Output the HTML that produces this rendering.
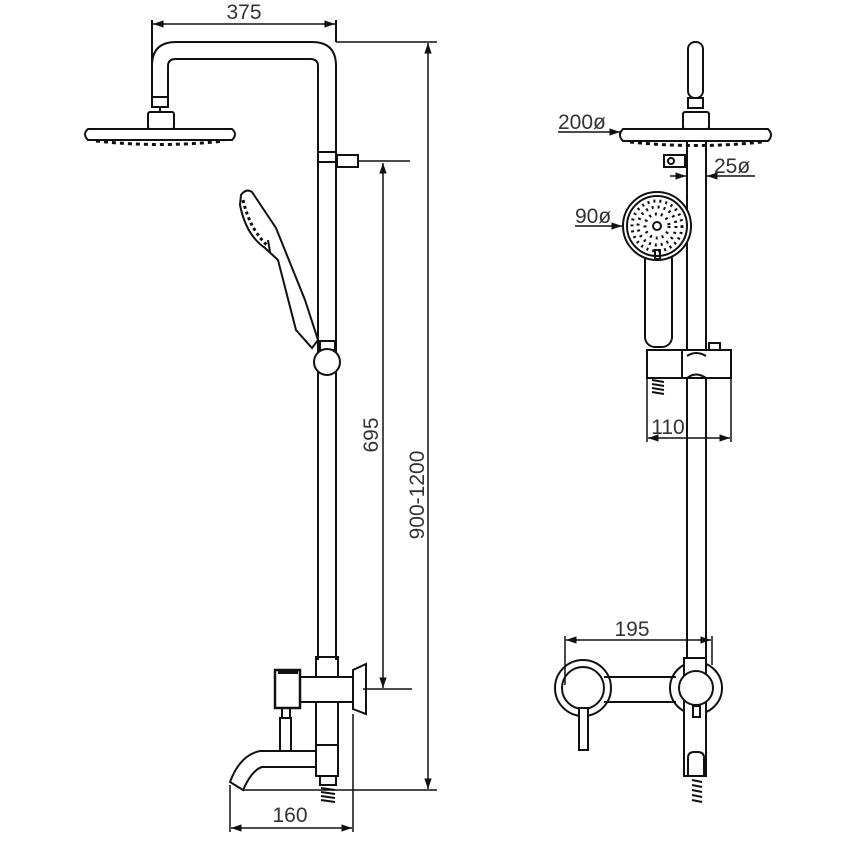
<!DOCTYPE html>
<html><head><meta charset="utf-8"><style>
html,body{margin:0;padding:0;background:#fff;}
svg{display:block;}
text{font-family:"Liberation Sans",sans-serif;font-size:21px;fill:#333;}
</style></head><body>
<svg width="855" height="855" viewBox="0 0 855 855" xmlns="http://www.w3.org/2000/svg">
<defs>
<marker id="a" viewBox="0 0 10 10" refX="10" refY="5" markerWidth="7" markerHeight="7" orient="auto-start-reverse"><path d="M0,1.5 L10,5 L0,8.5 z" fill="#111"/></marker>
</defs>
<g fill="none" stroke="#111" stroke-width="2">
<path d="M152,97 L152,66 Q152,42 176,42 L312,42 Q336,42 336,66 L336,660"/>
<path d="M168,97 L168,66 Q168,59 176,59 L310,59 Q318,59 318,66 L318,660"/>
<rect x="152" y="97" width="16" height="10" fill="#fff"/>
<rect x="148" y="112" width="26" height="17" rx="2"/>
<path d="M160,107 L160,112"/>
<path d="M88,129 L232,129 Q238,134 232,140 L88,140 Q82,134 88,129 Z"/>
<path d="M96,141 Q160,148 224,141" stroke-dasharray="4,4" stroke-width="3"/>
<rect x="318" y="152" width="18" height="10" fill="#fff"/>
<rect x="337" y="155" width="21" height="12"/>
<path d="M241,195 Q246,188 252,192 L276,228 L305,300 L318,340 L312,348 L296,330 L278,260 L265,248 Q246,235 240,205 Z"/>
<path d="M243,200 Q250,230 268,246" stroke-dasharray="3,3" stroke-width="3"/>
<path d="M268,240 L270,252"/>
<rect x="320" y="341" width="15" height="9"/>
<circle cx="327" cy="362" r="13" fill="#fff"/>
<rect x="316" y="657" width="22" height="88"/>
<rect x="300" y="677" width="53" height="25" fill="#fff"/>
<path d="M353,677 L353,670 L366,664 L366,714 L353,709 L353,702"/>
<rect x="275" y="670" width="25" height="38" stroke-width="2.5"/>
<rect x="279" y="670" width="18" height="3" fill="#111"/>
<rect x="282" y="708" width="8" height="10"/>
<rect x="280" y="718" width="11" height="33"/>
<path d="M316,751 L260,751 Q240,755 230,782 L243,790 Q252,770 262,767 L316,767"/>
<rect x="316" y="745" width="22" height="31"/>
<rect x="320" y="776" width="16" height="9"/>
<path d="M321,788 L335,790 M321,792 L335,794 M321,796 L335,798 M321,800 L335,802"/>
<path d="M152,20 L152,97 M336,20 L336,42"/>
<line x1="153" y1="24" x2="335" y2="24" marker-start="url(#a)" marker-end="url(#a)" stroke-width="1.5"/>
<path d="M336,42 L437,42" stroke-width="1.5"/>
<path d="M358,161 L410,161" stroke-width="1.5"/>
<line x1="383" y1="163" x2="383" y2="688" marker-start="url(#a)" marker-end="url(#a)" stroke-width="1.5"/>
<path d="M363,689 L412,689" stroke-width="1.5"/>
<line x1="428" y1="43" x2="428" y2="789" marker-start="url(#a)" marker-end="url(#a)" stroke-width="1.5"/>
<path d="M243,790 L437,790" stroke-width="1.5"/>
<path d="M230,785 L230,832 M353,714 L353,832" stroke-width="1.5"/>
<line x1="231" y1="828" x2="352" y2="828" marker-start="url(#a)" marker-end="url(#a)" stroke-width="1.5"/>

<rect x="688" y="42" width="15" height="56" rx="7"/>
<rect x="688" y="98" width="15" height="10"/>
<rect x="683" y="112" width="26" height="17" rx="2"/>
<path d="M623,129 L768,129 Q774,135 768,141 L623,141 Q617,135 623,129 Z"/>
<path d="M630,142 Q696,149 762,142" stroke-dasharray="4,4" stroke-width="3"/>
<path d="M687,141 L687,658 M706,141 L706,658"/>
<rect x="664" y="155" width="21" height="12"/>
<circle cx="671" cy="161" r="3"/>
<rect x="645" y="250" width="27" height="97" rx="10" fill="#fff"/>
<circle cx="657" cy="226" r="34" fill="#fff"/>
<circle cx="657" cy="226" r="30"/>
<circle cx="657" cy="226" r="4"/>
<circle cx="657" cy="226" r="12" stroke-dasharray="2,4" stroke-width="3"/>
<circle cx="657" cy="226" r="19" stroke-dasharray="2,4" stroke-width="3"/>
<circle cx="657" cy="226" r="25" stroke-dasharray="2,4" stroke-width="3"/>
<rect x="655" y="250" width="5" height="9"/>
<rect x="709" y="343" width="11" height="7"/>
<rect x="647" y="350" width="84" height="28" fill="#fff"/>
<path d="M682,350 L682,378"/>
<path d="M687,356 Q696,350 706,356 M687,378 Q696,371 706,378"/>
<path d="M687,378 L687,446 M706,378 L706,446"/>
<path d="M652,380 L664,382 M652,384 L664,386 M652,388 L664,390 M652,392 L664,394"/>
<circle cx="583" cy="688" r="28"/>
<circle cx="583" cy="688" r="21" fill="#fff"/>
<circle cx="696" cy="688" r="26"/>
<path d="M604,677 L676,677 M604,702 L676,702"/>
<rect x="684" y="658" width="22" height="118" fill="#fff"/>
<circle cx="696" cy="688" r="17" fill="#fff"/>
<rect x="693" y="706" width="7" height="11"/>
<rect x="579" y="708" width="9" height="42" fill="#fff"/>
<path d="M688,776 L688,758 Q688,752 694,752 L698,752 Q704,752 704,758 L704,776"/>
<path d="M692,780 L702,782 M692,785 L702,787 M692,790 L702,792 M692,795 L702,797 M692,800 L702,802"/>
<line x1="558" y1="132" x2="620" y2="132" marker-end="url(#a)" stroke-width="1.5"/>
<line x1="575" y1="226" x2="622" y2="226" marker-end="url(#a)" stroke-width="1.5"/>
<line x1="670" y1="176" x2="686" y2="176" marker-end="url(#a)" stroke-width="1.5"/>
<line x1="755" y1="176" x2="707" y2="176" marker-end="url(#a)" stroke-width="1.5"/>
<path d="M647,378 L647,442 M731,378 L731,442" stroke-width="1.5"/>
<line x1="648" y1="438" x2="730" y2="438" marker-start="url(#a)" marker-end="url(#a)" stroke-width="1.5"/>
<path d="M565,636 L565,685 M712,636 L712,665" stroke-width="1.5"/>
<line x1="566" y1="640" x2="711" y2="640" marker-start="url(#a)" marker-end="url(#a)" stroke-width="1.5"/>
</g>
<text x="244" y="19" text-anchor="middle">375</text>
<text x="290" y="822" text-anchor="middle">160</text>
<text transform="translate(378,435) rotate(-90)" text-anchor="middle">695</text>
<text transform="translate(424,495) rotate(-90)" text-anchor="middle">900-1200</text>
<text x="558" y="129">200ø</text>
<text x="575" y="223">90ø</text>
<text x="714" y="173">25ø</text>
<text x="668" y="434" text-anchor="middle">110</text>
<text x="632" y="636" text-anchor="middle">195</text>
</svg>
</body></html>
